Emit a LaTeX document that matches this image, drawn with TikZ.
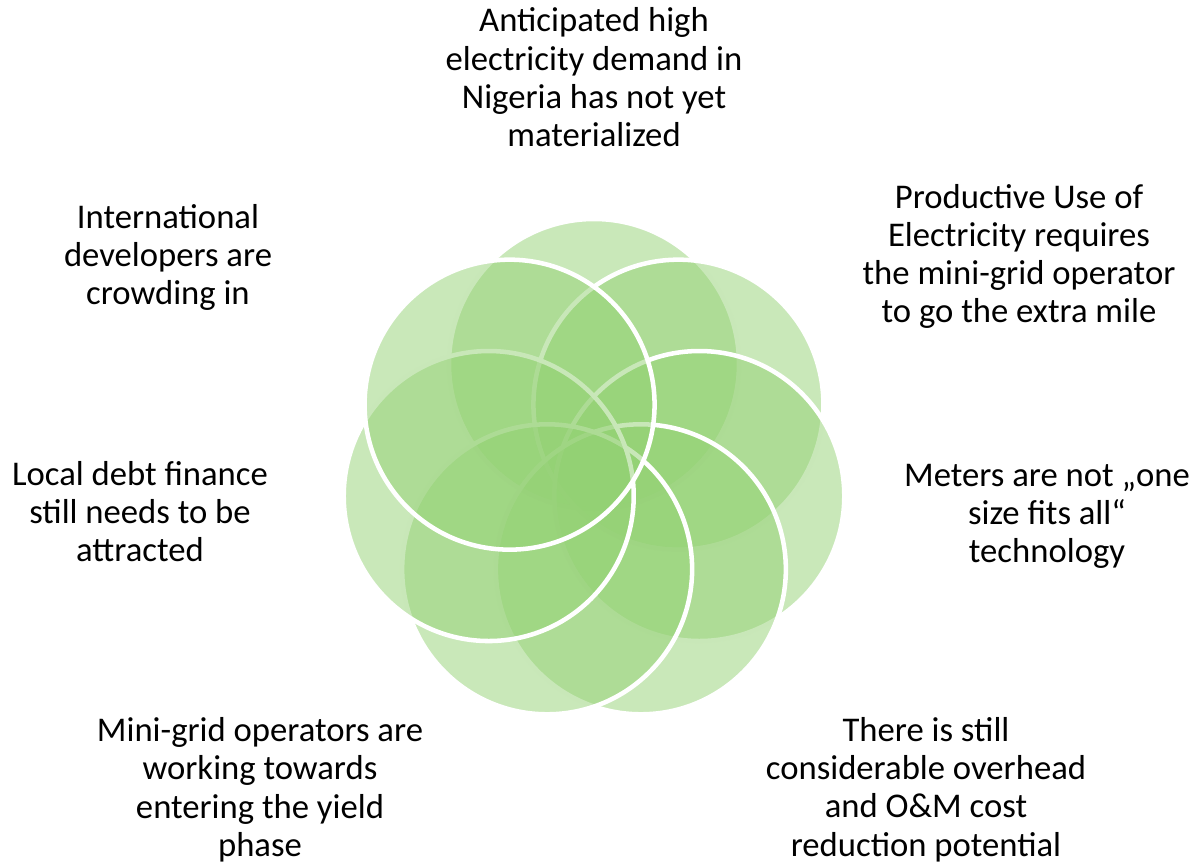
\documentclass[tikz,border=0pt]{standalone}
\usepackage{fontspec}
\setmainfont{Carlito}
\usetikzlibrary{calc}

\definecolor{petalgreen}{RGB}{147,209,115}

\begin{document}
\begin{tikzpicture}[x=0.75pt,y=0.75pt,
                    petal/.style={circle,draw=white,line width=3.4pt,fill=petalgreen,
                                  fill opacity=0.5,minimum size=217.5pt,inner sep=0pt},
                    text node/.style={align=center,anchor=base,
                                      font=\fontsize{26}{28.7}\selectfont}]

  \useasboundingbox (0,0) rectangle (1193,861);
  \coordinate (c) at (594,389);

  % seven rings, clockwise from the top one
  \foreach \i in {0,...,6}
    \node[petal] (p\i) at ($(c)+({90-\i*360/7}:108)$) {};

  % labels sit on the baseline of their last line
  \node[text node] (demand)   at (594,714.3) {Anticipated high\\electricity demand in\\Nigeria has not yet\\materialized};
  \node[text node] (use)      at (1019,538)  {Productive Use of\\Electricity requires\\the mini-grid operator\\to go the extra mile};
  \node[text node] (meters)   at (1047,298)  {Meters are not „one\\size fits all“\\technology};
  \node[text node] (overhead) at (926,5)     {There is still\\considerable overhead\\and O\&M cost\\reduction potential};
  \node[text node] (yield)    at (260,4.5)   {Mini-grid operators are\\working towards\\entering the yield\\phase};
  \node[text node] (debt)     at (140,299.3) {Local debt finance\\still needs to be\\attracted};
  \node[text node] (intl)     at (168,556)   {International\\developers are\\crowding in};
\end{tikzpicture}
\end{document}
